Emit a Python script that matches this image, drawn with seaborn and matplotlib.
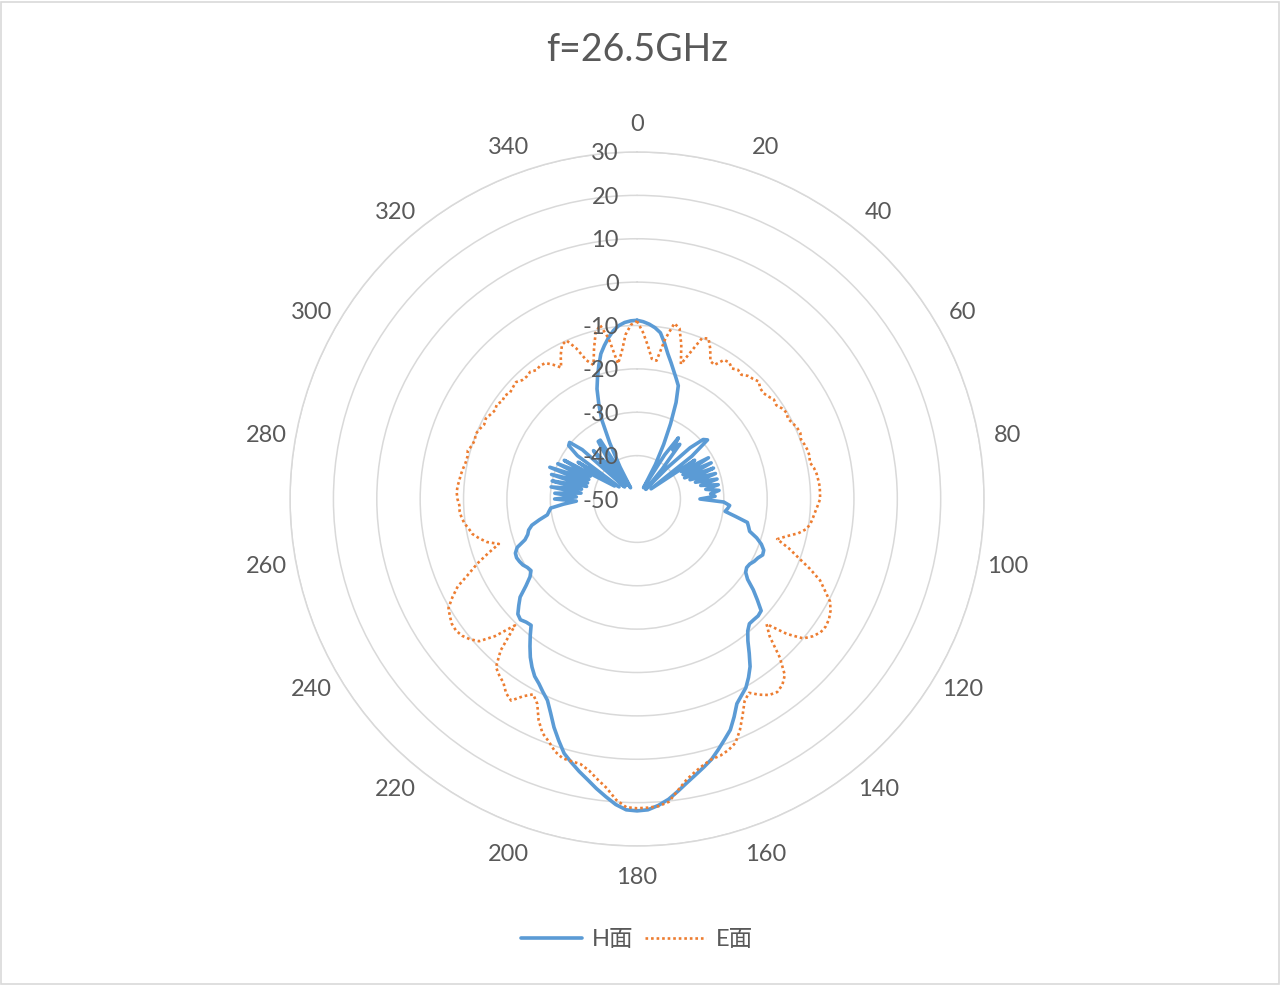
import numpy as np
import pandas as pd
import seaborn as sns
import matplotlib.pyplot as plt
from matplotlib.lines import Line2D
from matplotlib.patches import Rectangle

# measured pattern, 2 degree steps, 0..358
angles = list(range(0, 360, 2))

h_plane = [
    -8.8, -9.1, -9.6, -10.3, -11.3, -13.5, -15.8, -17.6, -19.3, -20.8,      # 0-18
    -22.2, -26, -31, -36, -41, -47, -38, -33, -36, -34,                     # 20-38
    -41, -47, -40, -33, -29.5, -28.8, -34, -46, -34, -38,                   # 40-58
    -31, -38, -31, -38, -31, -37, -31, -36, -31, -35,                       # 60-78
    -31, -34, -31, -33, -32, -35.5, -30, -28.6, -29, -29.5,                 # 80-98
    -27, -24, -23.5, -23, -21, -19.5, -18.5, -18.3, -19, -19.4,             # 100-118
    -20, -20.2, -19.8, -18.5, -16, -13.8, -11.5, -11.2, -11.3, -11.3,       # 120-138
    -10.3, -8.5, -6, -3.4, -1.5, 0.2, 1.3, 2.5, 5, 7.4,                     # 140-158
    9, 10.7, 12.4, 13.7, 15, 16.4, 18, 19.6, 20.8, 21.7,                    # 160-178
    21.9, 21.7, 20.6, 19, 17.4, 15.7, 14.2, 12.6, 11, 8.5,                  # 180-198
    6, 3.2, 0.8, -0.5, -1.8, -2.8, -4.3, -6, -8, -10,                       # 200-218
    -12, -11.8, -11.3, -11.8, -13.3, -14.8, -17.5, -19.5, -20.5, -20.2,     # 220-238
    -19.6, -19.3, -19.1, -19.3, -20.2, -22.5, -23.5, -24, -25, -27,         # 240-258
    -29, -29.5, -30, -33, -36, -31, -36, -31, -37, -30,                     # 260-278
    -37, -30, -38, -29.5, -38, -28.6, -38, -30, -38, -31,                   # 280-298
    -44, -34, -45, -33, -30, -29.7, -33, -46, -38, -35,                     # 300-318
    -40, -46, -38, -34, -34, -47, -41.7, -35.7, -30, -26.5,                 # 320-338
    -23, -20.5, -18, -15.5, -13.8, -12.2, -10.8, -9.8, -9.2, -8.9,          # 340-358
]

e_plane = [
    -9.0, -11.5, -14.5, -17.5, -17.8, -12.5, -8.6, -9.5, -13, -17.3,        # 0-18
    -14, -10, -9.5, -11.5, -14, -14.3, -12.2, -12, -12.8, -12.2,            # 20-38
    -12.6, -11.8, -11.5, -11, -11.8, -12, -11.6, -11, -11.3, -10.6,         # 40-58
    -10.2, -10.6, -10.1, -9.6, -9.4, -9.8, -9.4, -9.1, -9, -9.3,            # 60-78
    -8.6, -8.2, -8, -7.8, -7.8, -7.8, -8.3, -8.8, -9.2, -9.6,               # 80-98
    -10.3, -12, -14.5, -16.4, -13.2, -10.4, -7, -3.8, -1.8, 0.4,            # 100-118
    1.5, 2.2, 2.5, 2.3, 1.4, 0, -3.5, -8.5, -6, -0.8,                       # 120-138
    3, 4.4, 5, 4.5, 3.2, 1.6, 2.8, 5.5, 8.3, 10.6,                          # 140-158
    11.6, 12.2, 12.4, 13.2, 14.3, 15.7, 17.8, 20.2, 21, 21.2,               # 160-178
    21.3, 21.1, 19.5, 17, 15.3, 13.6, 12.5, 12.3, 12.2, 11.2,               # 180-198
    9.5, 8.2, 5.8, 2.5, 1, 2.5, 4.8, 4, 2.4, 1.6,                           # 200-218
    0.6, -3, -9.5, -4.5, -1, 0.3, 1.2, 1.6, 1.5, 0.9,                       # 220-238
    0.2, -1.8, -4, -7.5, -10.3, -13.5, -16.5, -14, -12.5, -11.2,            # 240-258
    -10.6, -9.8, -9.3, -9, -9, -8.6, -8.4, -8.5, -8.8, -9,                  # 260-278
    -9.3, -9.6, -9.7, -9.4, -10, -10.2, -9.9, -10.3, -10.8, -10.5,          # 280-298
    -11, -11.4, -11, -11.6, -11.3, -11.8, -11.5, -11.2, -11.9, -12,         # 300-318
    -11.7, -12.3, -12, -12.2, -13.5, -15, -12.5, -10.5, -10, -12.5,         # 320-338
    -16, -17.5, -14, -10.5, -9, -12.5, -18.5, -16, -12, -9.8,               # 340-358
]

r_ticks = [-50, -40, -30, -20, -10, 0, 10, 20, 30]
theta_ticks = list(range(0, 360, 20))
title_text = "f=26.5GHz"
series_names = ["H面", "E面"]

sns.set_style("white")
plt.rcParams["font.family"] = ["Lato", "Noto Sans CJK SC", "DejaVu Sans"]

text_c = "#595959"
grid_c = "#d9d9d9"
blue = "#5b9bd5"
orange = "#ed7d31"

# close the loop like the radar chart does
df = pd.DataFrame({"ang": angles + [360], "H": h_plane + h_plane[:1], "E": e_plane + e_plane[:1]})
df["theta"] = np.deg2rad(df["ang"])

fig = plt.figure(figsize=(12.8, 9.85), dpi=100)
ax = fig.add_axes([0.2266, 0.1411, 0.5422, 0.7046], projection="polar")
ax.set_theta_zero_location("N")
ax.set_theta_direction(-1)

sns.lineplot(data=df, x="theta", y="H", ax=ax, color=blue, lw=2.6, sort=False, estimator=None)
sns.lineplot(data=df, x="theta", y="E", ax=ax, color=orange, lw=1.9, sort=False, estimator=None,
             linestyle=(0, (1, 1.1)))

ax.set_ylim(-50, 30)
ax.set_yticks(r_ticks[1:])
ax.set_yticklabels([])
ax.yaxis.grid(True, color=grid_c, lw=1.1)
ax.xaxis.grid(False)
ax.spines["polar"].set_color(grid_c)
ax.spines["polar"].set_linewidth(1.1)
ax.set_xlabel("")
ax.set_ylabel("")

# angle labels sit on a fixed radius outside the outer ring
ax.set_xticks(np.deg2rad(theta_ticks))
ax.set_xticklabels([])
ax.tick_params(axis="x", length=0)
for t in theta_ticks:
    ax.text(np.deg2rad(t), 36.7, str(t), ha="center", va="center_baseline", fontsize=17,
            color=text_c, clip_on=False)

for v in r_ticks:
    ax.annotate(str(v), xy=(0, v), xytext=(-13, 0), textcoords="offset points",
                ha="right", va="center_baseline", fontsize=17, color=text_c,
                annotation_clip=False)

fig.text(637 / 1280, 1 - 50 / 985, title_text, ha="center", va="center", fontsize=27, color=text_c)

handles = [Line2D([], [], color=blue, lw=2.6),
           Line2D([], [], color=orange, lw=1.9, linestyle=(0, (1, 1.1)))]
leg = fig.legend(handles, series_names, loc="center", bbox_to_anchor=(637 / 1280, 1 - 940 / 985),
                 ncol=2, frameon=False, fontsize=17, handlelength=2.6, handletextpad=0.4,
                 columnspacing=0.5)
for t in leg.get_texts():
    t.set_color(text_c)

fig.patches.append(Rectangle((0.001, 0.001), 0.998, 0.997, transform=fig.transFigure,
                             fill=False, edgecolor=grid_c, lw=1.2))

fig.savefig("out.png", dpi=100)
